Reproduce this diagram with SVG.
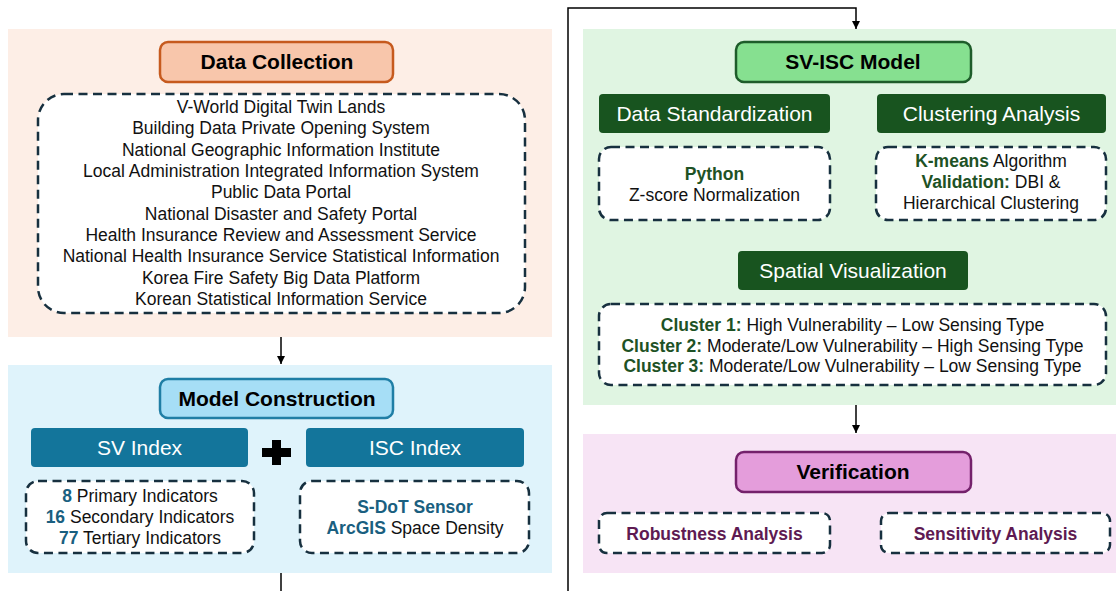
<svg xmlns="http://www.w3.org/2000/svg" width="1116" height="591" viewBox="0 0 1116 591">
<defs>
<marker id="arr" viewBox="0 0 10 10" refX="10" refY="5" markerWidth="8" markerHeight="8" markerUnits="userSpaceOnUse" orient="auto">
<path d="M0,0 L10,5 L0,10 z" fill="#000"/>
</marker>
</defs>
<style>
text{font-family:"Liberation Sans",Arial,sans-serif;text-anchor:middle}
.t{font-size:21px;font-weight:bold;fill:#000}
.h{font-size:21px;fill:#fff}
.b{font-size:17.5px;fill:#111}
.bb{font-weight:bold}
.dash{fill:#fff;stroke:#17303f;stroke-width:2.5;stroke-dasharray:9 5.5}
.conn{fill:none;stroke:#000;stroke-width:1.5}
</style>
<rect x="8" y="29" width="544" height="308" fill="#fdeee6"/>
<rect x="8" y="365" width="544" height="208" fill="#dff3fb"/>
<rect x="583" y="29" width="533" height="376" fill="#e0f5e2"/>
<rect x="583" y="434" width="533" height="139" fill="#f7e4f5"/>
<g id="connectors">
<path class="conn" d="M281,337 V364" marker-end="url(#arr)"/>
<path class="conn" d="M281,573 V591"/>
<path class="conn" d="M568,591 V8 H856 V29" marker-end="url(#arr)"/>
<path class="conn" d="M856,405 V433" marker-end="url(#arr)"/>
</g>
<g id="data-collection">
<rect x="160" y="42" width="233" height="40" rx="8" fill="#f8c6ab" stroke="#c65a1e" stroke-width="2.5"/>
<text class="t" x="277" y="69">Data Collection</text>
</g>
<g id="data-sources">
<rect class="dash" x="38" y="94" width="487" height="219" rx="26"/>
<text class="b" x="281" y="113">V-World Digital Twin Lands</text>
<text class="b" x="281" y="134.3">Building Data Private Opening System</text>
<text class="b" x="281" y="155.7">National Geographic Information Institute</text>
<text class="b" x="281" y="177">Local Administration Integrated Information System</text>
<text class="b" x="281" y="198.3">Public Data Portal</text>
<text class="b" x="281" y="219.7">National Disaster and Safety Portal</text>
<text class="b" x="281" y="241">Health Insurance Review and Assessment Service</text>
<text class="b" x="281" y="262.3">National Health Insurance Service Statistical Information</text>
<text class="b" x="281" y="283.7">Korea Fire Safety Big Data Platform</text>
<text class="b" x="281" y="305">Korean Statistical Information Service</text>
</g>
<g id="model-construction">
<rect x="160" y="379" width="233" height="39" rx="8" fill="#a6def6" stroke="#1f7ea5" stroke-width="2.5"/>
<text class="t" x="277" y="406">Model Construction</text>
</g>
<g id="sv-index">
<rect x="31" y="428" width="217" height="39" rx="4" fill="#13759b"/>
<text class="h" x="139.5" y="455">SV Index</text>
</g>
<g id="plus">
<rect x="262" y="448" width="29" height="9" fill="#000"/>
<rect x="272" y="440" width="9" height="25" fill="#000"/>
</g>
<g id="isc-index">
<rect x="306" y="428" width="218" height="39" rx="4" fill="#13759b"/>
<text class="h" x="415" y="455">ISC Index</text>
</g>
<g id="sv-details">
<rect class="dash" x="26" y="481" width="228" height="72" rx="12"/>
<text class="b" x="140" y="502"><tspan class="bb" fill="#1a5f80">8</tspan> Primary Indicators</text>
<text class="b" x="140" y="523"><tspan class="bb" fill="#1a5f80">16</tspan> Secondary Indicators</text>
<text class="b" x="140" y="544"><tspan class="bb" fill="#1a5f80">77</tspan> Tertiary Indicators</text>
</g>
<g id="isc-details">
<rect class="dash" x="300" y="481" width="229" height="72" rx="12"/>
<text class="b bb" x="415" y="513" fill="#1a5f80" style="fill:#1a5f80">S-DoT Sensor</text>
<text class="b" x="415" y="534"><tspan class="bb" fill="#1a5f80">ArcGIS</tspan> Space Density</text>
</g>
<g id="sv-isc-model">
<rect x="736" y="42" width="235" height="40" rx="8" fill="#86e090" stroke="#1e5c2a" stroke-width="2.5"/>
<text class="t" x="853" y="69">SV-ISC Model</text>
</g>
<g id="data-standardization">
<rect x="599" y="94" width="231" height="39" rx="4" fill="#18541f"/>
<text class="h" x="714.5" y="121">Data Standardization</text>
</g>
<g id="clustering-analysis">
<rect x="877" y="94" width="229" height="39" rx="4" fill="#18541f"/>
<text class="h" x="991.5" y="121">Clustering Analysis</text>
</g>
<g id="python">
<rect class="dash" x="599" y="147" width="231" height="73" rx="12"/>
<text class="b bb" x="714.5" y="180" style="fill:#1e5225">Python</text>
<text class="b" x="714.5" y="201">Z-score Normalization</text>
</g>
<g id="kmeans">
<rect class="dash" x="876" y="147" width="230" height="73" rx="12"/>
<text class="b" x="991" y="167"><tspan class="bb" fill="#1e5225">K-means</tspan> Algorithm</text>
<text class="b" x="991" y="188"><tspan class="bb" fill="#1e5225">Validation:</tspan> DBI &amp;</text>
<text class="b" x="991" y="209">Hierarchical Clustering</text>
</g>
<g id="spatial-visualization">
<rect x="738" y="251" width="230" height="39" rx="4" fill="#18541f"/>
<text class="h" x="853" y="278">Spatial Visualization</text>
</g>
<g id="clusters">
<rect class="dash" x="599" y="304" width="507" height="81" rx="12"/>
<text class="b" x="852.5" y="331"><tspan class="bb" fill="#1e5225">Cluster 1:</tspan> High Vulnerability – Low Sensing Type</text>
<text class="b" x="852.5" y="351.5"><tspan class="bb" fill="#1e5225">Cluster 2:</tspan> Moderate/Low Vulnerability – High Sensing Type</text>
<text class="b" x="852.5" y="372"><tspan class="bb" fill="#1e5225">Cluster 3:</tspan> Moderate/Low Vulnerability – Low Sensing Type</text>
</g>
<g id="verification">
<rect x="736" y="452" width="235" height="40" rx="8" fill="#e49ddb" stroke="#74216b" stroke-width="2.5"/>
<text class="t" x="853" y="479">Verification</text>
</g>
<g id="robustness">
<rect class="dash" x="599" y="513" width="231" height="40" rx="8"/>
<text class="b bb" x="714.5" y="539.5" style="fill:#5e1a52">Robustness Analysis</text>
</g>
<g id="sensitivity">
<rect class="dash" x="881" y="513" width="229" height="40" rx="8"/>
<text class="b bb" x="995.5" y="539.5" style="fill:#5e1a52">Sensitivity Analysis</text>
</g>
</svg>
